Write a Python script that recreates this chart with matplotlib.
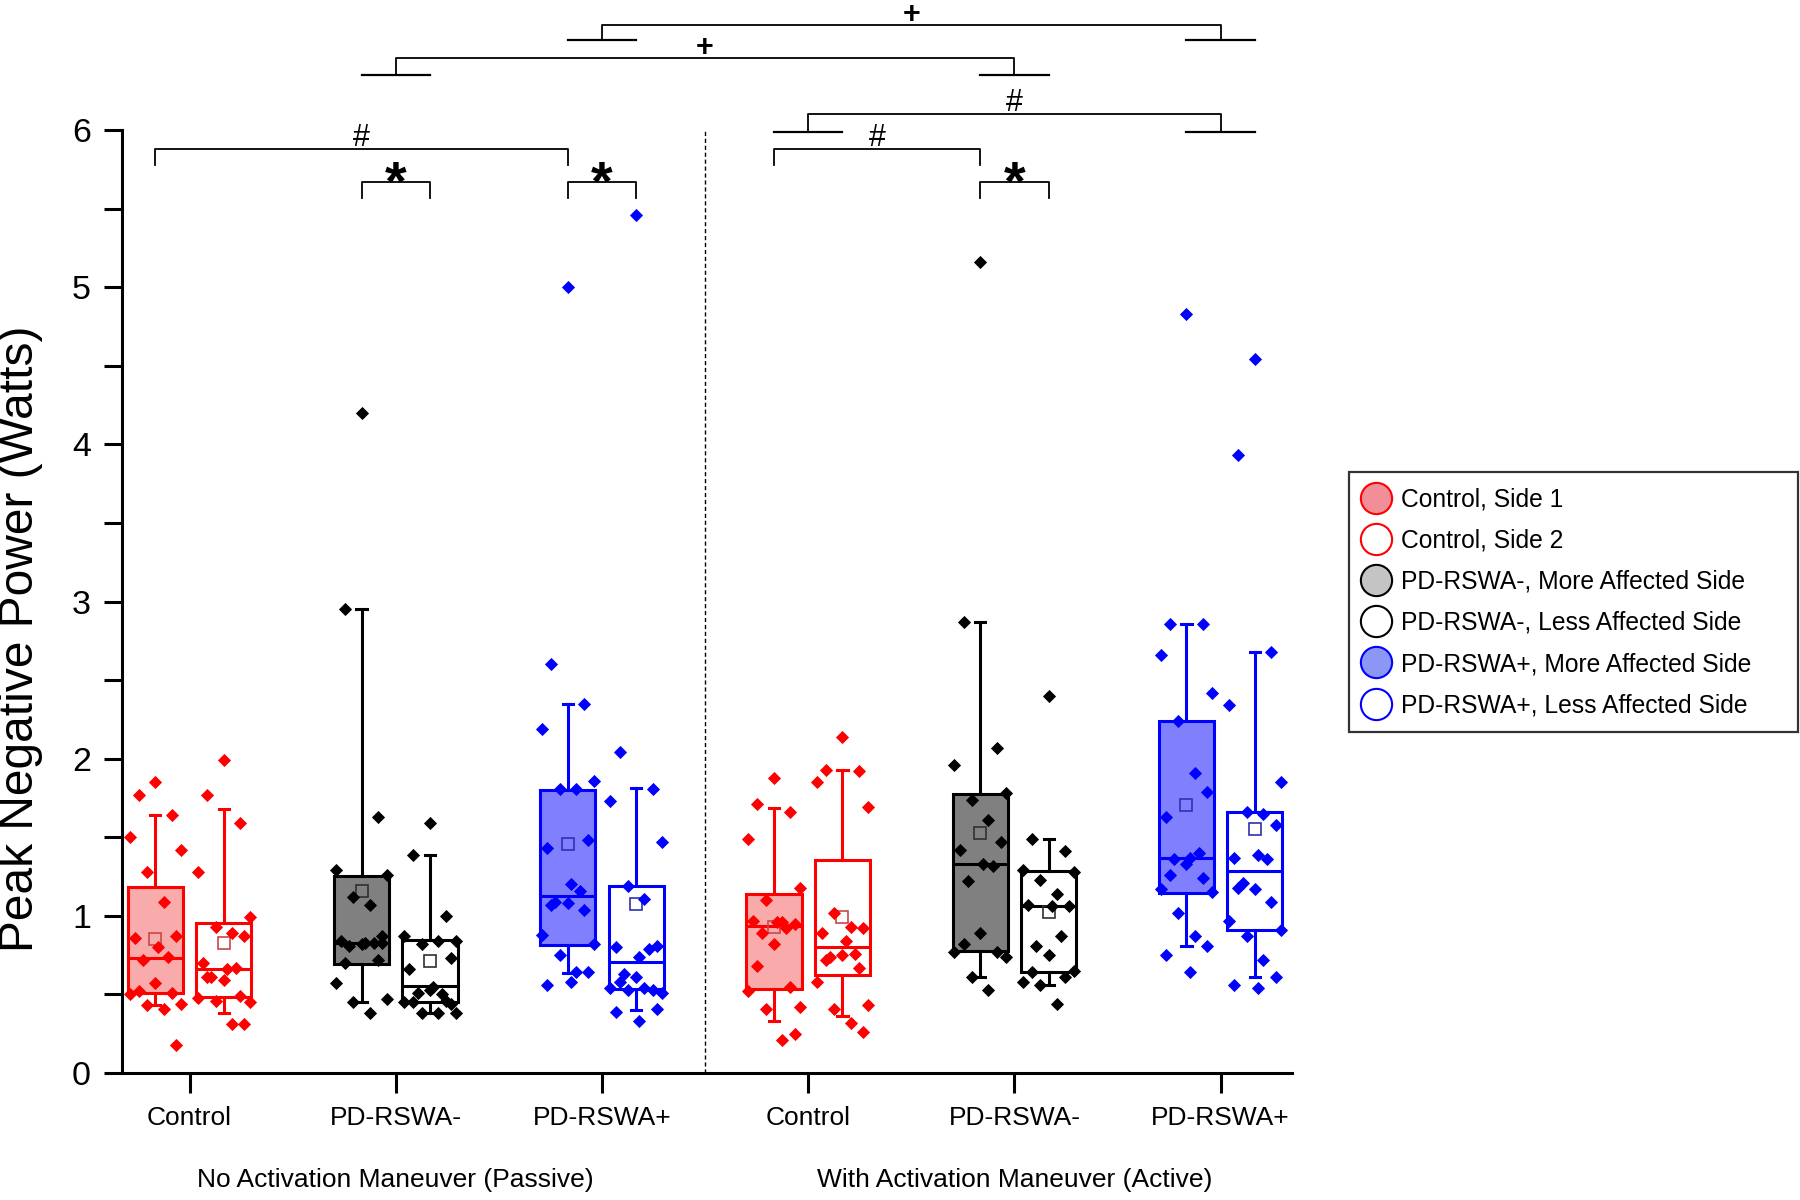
import matplotlib
matplotlib.use("Agg")
import matplotlib.pyplot as plt
import matplotlib.transforms as mtransforms
from matplotlib.lines import Line2D
from matplotlib.ticker import MultipleLocator

plt.rcParams['font.family'] = ['Liberation Sans', 'DejaVu Sans']

# ---------------- data ----------------
categories = ['Control', 'PD-RSWA-', 'PD-RSWA+', 'Control', 'PD-RSWA-', 'PD-RSWA+']
condition_labels = ['No Activation Maneuver (Passive)', 'With Activation Maneuver (Active)']
legend_labels = ['Control, Side 1', 'Control, Side 2',
                 'PD-RSWA-, More Affected Side', 'PD-RSWA-, Less Affected Side',
                 'PD-RSWA+, More Affected Side', 'PD-RSWA+, Less Affected Side']

ctrl_p1 = [1.85, 1.77, 1.64, 1.50, 1.42, 1.28, 1.09, 0.87, 0.86, 0.80, 0.74, 0.72, 0.57, 0.52, 0.51, 0.50, 0.44, 0.43, 0.41, 0.18]
ctrl_p2 = [1.99, 1.77, 1.59, 1.28, 0.99, 0.93, 0.89, 0.87, 0.70, 0.66, 0.67, 0.61, 0.59, 0.61, 0.49, 0.48, 0.45, 0.46, 0.31, 0.31]
pdm_p1 = [4.20, 2.95, 1.63, 1.29, 1.26, 1.12, 1.07, 0.87, 0.84, 0.83, 0.83, 0.81, 0.82, 0.70, 0.72, 0.57, 0.47, 0.45, 0.38, 0.83]
pdm_p2 = [1.59, 1.39, 1.00, 0.87, 0.84, 0.82, 0.84, 0.73, 0.66, 0.55, 0.50, 0.51, 0.53, 0.45, 0.46, 0.45, 0.38, 0.38, 0.38, 0.44]
pdp_p1 = [5.00, 2.60, 2.35, 2.19, 1.86, 1.81, 1.81, 1.48, 1.43, 1.20, 1.16, 1.09, 1.08, 1.07, 1.04, 0.88, 0.82, 0.75, 0.64, 0.64, 0.56, 0.58]
pdp_p2 = [5.46, 2.04, 1.81, 1.73, 1.47, 1.19, 1.11, 0.81, 0.80, 0.74, 0.79, 0.63, 0.61, 0.58, 0.53, 0.54, 0.51, 0.53, 0.54, 0.41, 0.39, 0.33]
ctrl_a1 = [1.88, 1.71, 1.66, 1.49, 1.18, 1.10, 0.96, 0.95, 0.97, 0.96, 0.92, 0.89, 0.82, 0.68, 0.55, 0.52, 0.42, 0.41, 0.21, 0.25]
ctrl_a2 = [2.14, 1.93, 1.92, 1.85, 1.69, 1.02, 0.93, 0.92, 0.89, 0.84, 0.76, 0.74, 0.75, 0.72, 0.67, 0.58, 0.43, 0.41, 0.32, 0.26]
pdm_a1 = [5.16, 2.87, 2.07, 1.96, 1.78, 1.74, 1.61, 1.47, 1.42, 1.33, 1.32, 1.22, 0.89, 0.82, 0.77, 0.77, 0.74, 0.61, 0.53]
pdm_a2 = [2.40, 1.49, 1.41, 1.29, 1.28, 1.23, 1.14, 1.06, 1.07, 1.06, 0.87, 0.81, 0.75, 0.64, 0.61, 0.58, 0.65, 0.56, 0.44]
pdp_a1 = [4.83, 2.86, 2.86, 2.66, 2.42, 2.24, 1.91, 1.79, 1.63, 1.37, 1.40, 1.36, 1.33, 1.26, 1.24, 1.17, 1.15, 1.02, 0.87, 0.81, 0.75, 0.64]
pdp_a2 = [4.54, 3.93, 2.68, 2.34, 1.85, 1.66, 1.65, 1.58, 1.37, 1.39, 1.36, 1.21, 1.17, 1.18, 1.09, 0.97, 0.91, 0.87, 0.72, 0.61, 0.56, 0.54]

# box statistics: q1, median, q3, whisker low, whisker high, mean
q1 = [0.508, 0.485, 0.696, 0.451, 0.814, 0.536, 0.536, 0.621, 0.774, 0.640, 1.145, 0.912]
medians = [0.729, 0.664, 0.827, 0.551, 1.124, 0.704, 0.933, 0.800, 1.330, 1.065, 1.368, 1.288]
q3 = [1.186, 0.954, 1.256, 0.846, 1.800, 1.192, 1.141, 1.358, 1.774, 1.283, 2.239, 1.659]
whis_lo = [0.43, 0.38, 0.45, 0.381, 0.636, 0.40, 0.332, 0.366, 0.61, 0.557, 0.806, 0.608]
whis_hi = [1.64, 1.68, 2.95, 1.39, 2.35, 1.814, 1.687, 1.925, 2.87, 1.487, 2.855, 2.68]
means = [0.85, 0.83, 1.156, 0.71, 1.46, 1.075, 0.927, 0.99, 1.53, 1.024, 1.708, 1.553]

series = [ctrl_p1, ctrl_p2, pdm_p1, pdm_p2, pdp_p1, pdp_p2,
          ctrl_a1, ctrl_a2, pdm_a1, pdm_a2, pdp_a1, pdp_a2]

# ---------------- styles ----------------
RED, BLACK, BLUE = '#FF0000', '#000000', '#0000FF'
edge_cols = [RED, RED, BLACK, BLACK, BLUE, BLUE]
fill_cols = ['#F9AAAA', 'white', '#808080', 'white', '#8080FF', 'white']
mean_cols = ['#C84848', '#C84848', '#303030', '#303030', '#3030B0', '#3030B0']
leg_fill = ['#F28E98', 'white', '#C4C4C4', 'white', '#8C96F5', 'white']
JIT = [0.0, -0.08, 0.08, -0.125, 0.125, -0.04, 0.04, 0.1, -0.1, 0.015, 0.06, -0.06]
SIDE = [-0.166, 0.166]
BW = 0.267
LW = 2.2

fig = plt.figure(figsize=(18, 12), dpi=100)
ax = fig.add_axes([0.0676, 0.1058, 0.6502, 0.7859])

for k, vals in enumerate(series):
    cat = k // 2 + 1
    side = k % 2
    style = k % 6
    pos = cat + SIDE[side]
    col = edge_cols[style]
    st = dict(med=medians[k], q1=q1[k], q3=q3[k], whislo=whis_lo[k],
              whishi=whis_hi[k], mean=means[k], fliers=[])
    ax.bxp([st], positions=[pos], widths=BW, patch_artist=True,
           showmeans=True, showfliers=False, manage_ticks=False,
           capwidths=0.05,
           boxprops=dict(facecolor=fill_cols[style], edgecolor=col, linewidth=LW),
           medianprops=dict(color=col, linewidth=LW),
           whiskerprops=dict(color=col, linewidth=LW),
           capprops=dict(color=col, linewidth=LW),
           meanprops=dict(marker='s', markerfacecolor='none',
                          markeredgecolor=mean_cols[style], markersize=8,
                          markeredgewidth=1.2), zorder=2)
    xs = [pos + JIT[i % len(JIT)] for i in range(len(vals))]
    ax.plot(xs, vals, ls='none', marker='D', ms=6.4, color=col, mec=col,
            mew=0.6, zorder=4, clip_on=False)

# axes styling
ax.set_xlim(0.671, 6.346)
ax.set_ylim(0, 6)
for s in ['top', 'right']:
    ax.spines[s].set_visible(False)
for s in ['left', 'bottom']:
    ax.spines[s].set_linewidth(LW)
ax.set_xticks(range(1, 7))
ax.set_xticklabels(categories)
ax.tick_params(axis='x', length=14.5, width=LW, labelsize=19, pad=9)
ax.yaxis.set_major_locator(MultipleLocator(1))
ax.yaxis.set_minor_locator(MultipleLocator(0.5))
ax.tick_params(axis='y', which='both', length=13, width=LW, labelsize=24.5, pad=9)

ax.plot([3.5, 3.5], [0, 6], ls=(0, (3, 2)), color='black', lw=1.0, zorder=1)

fig.text(0.0115, 0.468, 'Peak Negative Power (Watts)', rotation=90,
         ha='center', va='center', fontsize=34.5)

trans = mtransforms.blended_transform_factory(ax.transData, fig.transFigure)
ax.text(2, 0.0167, condition_labels[0], transform=trans, ha='center', va='center', fontsize=19)
ax.text(5, 0.0167, condition_labels[1], transform=trans, ha='center', va='center', fontsize=19)

# significance brackets
BLW = 1.3

def pi_bracket(x1, x2, y, ydrop, sym, ty, fs, bold=False):
    ax.plot([x1, x1, x2, x2], [ydrop, y, y, ydrop], color='black', lw=BLW, clip_on=False)
    ax.text((x1 + x2) / 2, ty, sym, ha='center', va='baseline', fontsize=fs,
            fontweight='bold' if bold else 'normal', clip_on=False)

def t_bracket(x1, x2, y, yfoot, sym, ty, fs, bold, half=0.166):
    ax.plot([x1, x1, x2, x2], [yfoot, y, y, yfoot], color='black', lw=BLW, clip_on=False)
    for xx in (x1, x2):
        ax.plot([xx - half, xx + half], [yfoot, yfoot], color='black', lw=BLW + 0.3, clip_on=False)
    ax.text((x1 + x2) / 2, ty, sym, ha='center', va='baseline', fontsize=fs,
            fontweight='bold' if bold else 'normal', clip_on=False)

pi_bracket(0.834, 2.834, 5.88, 5.78, '#', 5.90, 22)
pi_bracket(1.834, 2.166, 5.67, 5.57, '*', 5.56, 40, bold=True)
pi_bracket(2.834, 3.166, 5.67, 5.57, '*', 5.56, 40, bold=True)
pi_bracket(3.834, 4.834, 5.88, 5.78, '#', 5.90, 22)
pi_bracket(4.834, 5.166, 5.67, 5.57, '*', 5.56, 40, bold=True)
t_bracket(4, 6, 6.10, 5.99, '#', 6.12, 22, False)
t_bracket(2, 5, 6.46, 6.35, '+', 6.47, 22, True)
t_bracket(3, 6, 6.67, 6.57, '+', 6.68, 22, True)

# legend
handles = [Line2D([], [], ls='none', marker='o', ms=22.5, mfc=leg_fill[i],
                  mec=edge_cols[i], mew=1.5) for i in range(6)]
leg = fig.legend(handles, legend_labels, loc='upper left',
                 bbox_to_anchor=(0.7494, 0.391, 0.2495, 0.2157), mode='expand',
                 frameon=True, fancybox=False, edgecolor='black', fontsize=17.7,
                 handlelength=1.0, handletextpad=0.5, labelspacing=0.70, borderpad=0.62,
                 borderaxespad=0)
leg.get_frame().set_linewidth(1.6)

fig.savefig('out.png', dpi=100)
